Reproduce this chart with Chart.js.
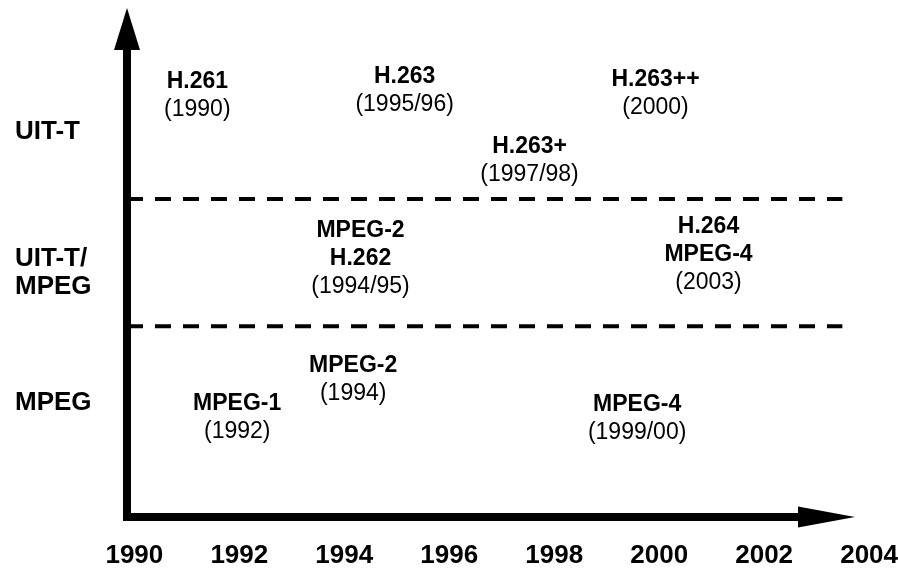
<!DOCTYPE html>
<html>
<head>
<meta charset="utf-8">
<script src="https://cdn.jsdelivr.net/npm/chart.js@4/dist/chart.umd.min.js"></script>
<style>
  html, body { margin: 0; padding: 0; background: #fff; }
  #wrap { position: relative; width: 898px; height: 570px; }
</style>
</head>
<body>
<div id="wrap"><canvas id="chart"></canvas></div>
<script>
// x axis: years
const tickYears = [1990, 1992, 1994, 1996, 1998, 2000, 2002, 2004];
// y axis: standard bodies (bottom to top)
const bandTicks = [0.9, 1.92, 3.03];
const bandLabels = ['MPEG', ['UIT-T/', 'MPEG'], 'UIT-T'];
const bandEdges = [1.5, 2.5];
const bandLineEnd = 2003.49;

// standards placed on the timeline
const itemNames = [['H.261'], ['H.263'], ['H.263++'], ['H.263+'], ['MPEG-2', 'H.262'],
                   ['H.264', 'MPEG-4'], ['MPEG-2'], ['MPEG-1'], ['MPEG-4']];
const itemYears = ['(1990)', '(1995/96)', '(2000)', '(1997/98)', '(1994/95)',
                   '(2003)', '(1994)', '(1992)', '(1999/00)'];
const itemX = [1991.2, 1995.15, 1999.93, 1997.53, 1994.31, 2000.94, 1994.17, 1991.96, 1999.58];
const itemY = [3.31, 3.35, 3.33, 2.80, 2.03, 2.06, 1.08, 0.78, 0.77];

const FONT = 'Liberation Sans, Arial, Helvetica, sans-serif';
const X_MIN = 1989.86, X_MAX = 2004.36;

const labelPlugin = {
  id: 'itemLabels',
  afterDatasetsDraw(chart) {
    const ctx = chart.ctx;
    const meta = chart.getDatasetMeta(0);
    const lineH = 28;
    ctx.save();
    ctx.fillStyle = '#000';
    ctx.textAlign = 'center';
    ctx.textBaseline = 'middle';
    meta.data.forEach((pt, i) => {
      const lines = itemNames[i].concat([itemYears[i]]);
      const y0 = pt.y - (lines.length - 1) * lineH / 2;
      lines.forEach((txt, j) => {
        const bold = j < lines.length - 1;
        ctx.font = (bold ? 'bold ' : '') + '23px ' + FONT;
        ctx.fillText(txt, pt.x, y0 + j * lineH);
      });
    });
    ctx.restore();
  }
};

// the two arrows that form the axes
const arrowPlugin = {
  id: 'axisArrows',
  afterDatasetsDraw(chart) {
    const { ctx, chartArea } = chart;
    const l = chartArea.left, b = chartArea.bottom, t = chartArea.top;
    ctx.save();
    ctx.fillStyle = '#000';
    // vertical shaft + head
    ctx.fillRect(l - 4, t + 40, 8, b - t - 36);
    ctx.beginPath();
    ctx.moveTo(l, t);
    ctx.lineTo(l - 13, t + 42);
    ctx.lineTo(l + 13, t + 42);
    ctx.closePath();
    ctx.fill();
    // horizontal shaft + head
    const tip = chartArea.right - 33;
    ctx.fillRect(l - 4, b - 4, tip - 55 - l + 4, 8);
    ctx.beginPath();
    ctx.moveTo(tip, b);
    ctx.lineTo(tip - 57, b - 10.5);
    ctx.lineTo(tip - 57, b + 10.5);
    ctx.closePath();
    ctx.fill();
    ctx.restore();
  }
};

const dashSets = bandEdges.map(v => ({
  data: [{ x: X_MIN, y: v }, { x: bandLineEnd, y: v }],
  showLine: true,
  borderColor: '#000',
  borderWidth: 4,
  borderDash: [16, 12],
  pointRadius: 0
}));

new Chart(document.getElementById('chart'), {
  type: 'scatter',
  data: {
    datasets: [{
      data: itemX.map((x, i) => ({ x: x, y: itemY[i] })),
      pointRadius: 0,
      showLine: false
    }].concat(dashSets)
  },
  options: {
    responsive: true,
    maintainAspectRatio: false,
    animation: false,
    layout: { padding: { top: 8, right: 10, left: 15, bottom: 0 } },
    plugins: { legend: { display: false }, tooltip: { enabled: false } },
    scales: {
      x: {
        type: 'linear',
        min: X_MIN,
        max: X_MAX,
        grid: { display: false, drawTicks: false },
        border: { display: false },
        afterBuildTicks: s => { s.ticks = tickYears.map(v => ({ value: v })); },
        afterFit: s => { s.height = 53; s.paddingLeft = 0; s.paddingRight = 0; },
        ticks: {
          autoSkip: false,
          maxRotation: 0,
          padding: 23,
          color: '#000',
          font: { family: FONT, size: 26, weight: 'bold', lineHeight: 1.2 },
          callback: v => String(v)
        }
      },
      y: {
        type: 'linear',
        min: 0,
        max: 4,
        grid: { display: false, drawTicks: false },
        border: { display: false },
        afterBuildTicks: s => { s.ticks = bandTicks.map(v => ({ value: v })); },
        afterFit: s => { s.width = 112; s.paddingTop = 0; s.paddingBottom = 0; },
        ticks: {
          autoSkip: false,
          padding: 20,
          crossAlign: 'far',
          color: '#000',
          font: { family: FONT, size: 26, weight: 'bold', lineHeight: 1.08 },
          callback: (v, i) => bandLabels[i]
        }
      }
    }
  },
  plugins: [labelPlugin, arrowPlugin]
});
</script>
</body>
</html>
